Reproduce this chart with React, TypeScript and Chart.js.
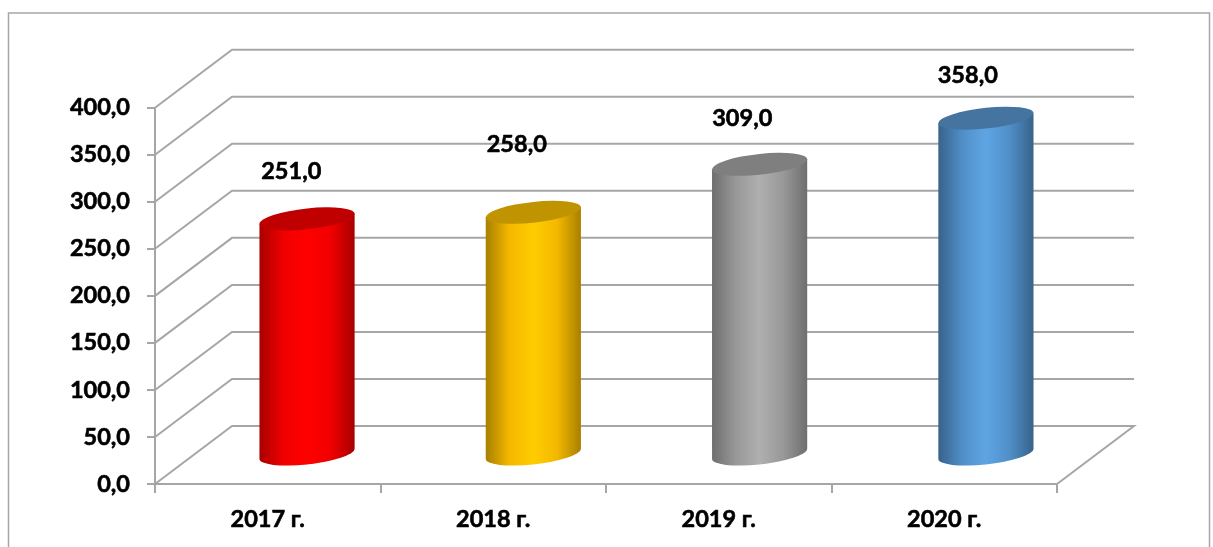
import React, { useEffect, useRef } from "react";
import { Chart, registerables } from "chart.js";

Chart.register(...registerables);

const categories = ["2017 г.", "2018 г.", "2019 г.", "2020 г."];
const values = [251, 258, 309, 358];
const sideColors = ["#ff0000", "#ffcc00", "#afafaf", "#5fa5e3"];
const shoulderColors = ["#f00000", "#f4b800", "#989898", "#4f8fc8"];
const capColors = ["#c00000", "#c09400", "#7f7f7f", "#44749f"];
const edgeColors = ["#a80000", "#a88000", "#6e6e6e", "#38628a"];
const labelLift = [48, 68, 46, 43];

const FONT_SIZE = 23.5;
const FONT_FAMILY = "Lato, Carlito, sans-serif";
const LINE = "#a6a6a6";
const DEPTH_X = 77;
const DEPTH_Y = 58;
const CAP_SKEW = 5;
const CAP_HEIGHT = 10.4;
const BAR_SPREAD = 1.0035;
const BAR_SHIFT = 38.9;

const fmt = (v: number) => v.toFixed(1).replace(".", ",");

const scene = {
  id: "scene",
  beforeDraw(chart: any) {
    const { ctx } = chart;
    const { x, y } = chart.scales;
    ctx.save();
    ctx.strokeStyle = LINE;
    ctx.lineWidth = 1.5;
    ctx.beginPath();
    ctx.moveTo(8.5, 560);
    ctx.lineTo(8.5, 13);
    ctx.lineTo(1209.5, 13);
    ctx.lineTo(1209.5, 560);
    ctx.stroke();
    ctx.lineWidth = 2;
    const left = x.left;
    const right = x.right;
    y.ticks.forEach((t: any) => {
      const py = y.getPixelForValue(t.value);
      ctx.beginPath();
      ctx.moveTo(left, py);
      ctx.lineTo(left + DEPTH_X, py - DEPTH_Y);
      ctx.lineTo(right + DEPTH_X, py - DEPTH_Y);
      if (t.value === 0) ctx.lineTo(right, py);
      ctx.stroke();
    });
    ctx.restore();
  },
  beforeDatasetDraw(chart: any, args: any) {
    const { ctx } = chart;
    const left = chart.scales.x.left;
    const meta = chart.getDatasetMeta(args.index);
    meta.data.forEach((bar: any, i: number) => {
      const a = bar.width / 2;
      const cx = left + (bar.x - left) * BAR_SPREAD + BAR_SHIFT;
      const top = bar.y - DEPTH_Y / 2;
      const base = bar.base - DEPTH_Y / 2;
      const g = ctx.createLinearGradient(cx - a, 0, cx + a, 0);
      g.addColorStop(0, edgeColors[i]);
      g.addColorStop(0.25, shoulderColors[i]);
      g.addColorStop(0.5, bar.options.backgroundColor);
      g.addColorStop(0.75, shoulderColors[i]);
      g.addColorStop(1, edgeColors[i]);
      ctx.save();
      ctx.beginPath();
      ctx.moveTo(cx - a, top + CAP_SKEW);
      ctx.lineTo(cx - a, base + CAP_SKEW);
      ctx.save();
      ctx.transform(a, -CAP_SKEW, 0, CAP_HEIGHT, cx, base);
      ctx.arc(0, 0, 1, Math.PI, 0, true);
      ctx.restore();
      ctx.lineTo(cx + a, top - CAP_SKEW);
      ctx.closePath();
      ctx.fillStyle = g;
      ctx.fill();
      ctx.beginPath();
      ctx.save();
      ctx.transform(a, -CAP_SKEW, 0, CAP_HEIGHT, cx, top);
      ctx.arc(0, 0, 1, 0, Math.PI * 2);
      ctx.restore();
      ctx.fillStyle = capColors[i];
      ctx.fill();
      ctx.restore();
    });
    return false;
  },
  afterDatasetsDraw(chart: any) {
    const { ctx } = chart;
    const meta = chart.getDatasetMeta(0);
    ctx.save();
    ctx.font = `bold ${FONT_SIZE}px ${FONT_FAMILY}`;
    ctx.fillStyle = "#000";
    ctx.strokeStyle = "#000";
    ctx.lineWidth = 0.6;
    ctx.textAlign = "center";
    ctx.textBaseline = "middle";
    meta.data.forEach((bar: any, i: number) => {
      const px = bar.x + 23.5;
      const py = bar.y - DEPTH_Y / 2 - labelLift[i] + 0.5;
      ctx.fillText(fmt(values[i]), px, py);
      ctx.strokeText(fmt(values[i]), px, py);
    });
    ctx.restore();
  },
};

export default function App() {
  const ref = useRef<HTMLCanvasElement>(null);
  useEffect(() => {
    const font = { family: FONT_FAMILY, size: FONT_SIZE, weight: "bold" as const };
    const chart = new Chart(ref.current!, {
      type: "bar",
      data: {
        labels: categories,
        datasets: [
          {
            data: values,
            backgroundColor: sideColors,
            barPercentage: 1,
            categoryPercentage: 0.422,
          },
        ],
      },
      options: {
        animation: false,
        responsive: false,
        devicePixelRatio: 1,
        layout: { padding: { left: 8, top: 107.7, right: 156, bottom: 0 } },
        plugins: { legend: { display: false }, tooltip: { enabled: false } },
        scales: {
          x: {
            afterFit: (s: any) => {
              s.height = 63;
            },
            grid: { drawOnChartArea: false, color: LINE, lineWidth: 2, tickLength: 9 },
            border: { color: LINE, width: 2 },
            ticks: { color: "#000", font, padding: 12, maxRotation: 0, textStrokeColor: "#000", textStrokeWidth: 0.6 },
          },
          y: {
            min: 0,
            max: 400,
            afterFit: (s: any) => {
              s.width = 147;
            },
            grid: { drawOnChartArea: false, color: LINE, lineWidth: 2, tickLength: 8 },
            border: { color: LINE, width: 2 },
            ticks: {
              stepSize: 50,
              color: "#000",
              font,
              padding: 17,
              textStrokeColor: "#000",
              textStrokeWidth: 0.6,
              callback: (v: any) => fmt(Number(v)),
            },
          },
        },
      },
      plugins: [scene],
    } as any);
    return () => chart.destroy();
  }, []);
  return (
    <div style={{ position: "absolute", left: 0, top: 0, width: 1213, height: 547, background: "#fff", overflow: "hidden" }}>
      <canvas ref={ref} width={1213} height={547} style={{ display: "block" }} />
    </div>
  );
}
